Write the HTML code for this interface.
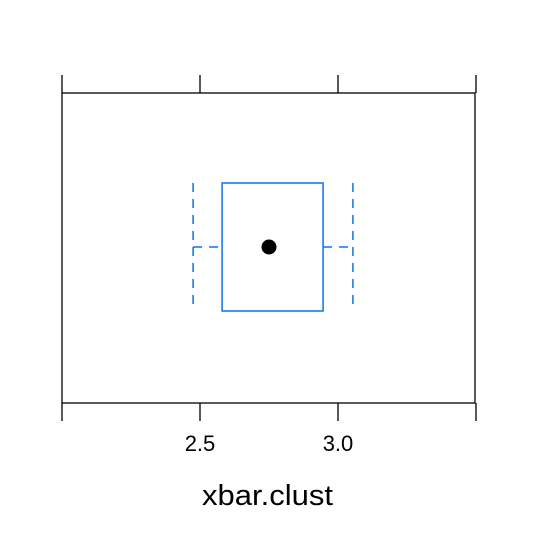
<!DOCTYPE html>
<html><head><meta charset="utf-8"><style>body{margin:0;background:#fff}svg{display:block}</style></head>
<body>
<svg id="chart" width="537" height="537" xmlns="http://www.w3.org/2000/svg" font-family="'Liberation Sans', sans-serif"></svg>
<script>
const tickValues = [2.0, 2.5, 3.0, 3.5];
const tickLabels = ["", "2.5", "3.0", ""];
const boxStats = [2.475, 2.58, 2.75, 2.946, 3.054]; // lower whisker, Q1, median, Q3, upper whisker
const xLabel = "xbar.clust";

const svg = document.getElementById('chart');
const NS = "http://www.w3.org/2000/svg";
const L = 62, R = 475, T = 93, B = 403;
const xMin = 2.0, xMax = 3.4964;
function x(v){ return L + (v - xMin) / (xMax - xMin) * (R - L); }
function mk(tag, attrs){ const e = document.createElementNS(NS, tag); for (const k in attrs) e.setAttribute(k, attrs[k]); svg.appendChild(e); return e; }

const frame = mk('rect', {x:L, y:T, width:R-L, height:B-T, fill:'none', stroke:'#000', 'stroke-width':1.3});



tickValues.forEach((v, i) => {
  const t1 = mk('line', {x1:x(v), x2:x(v), y1:T-18, y2:T, stroke:'#000', 'stroke-width':1.3});
  
  
  const t2 = mk('line', {x1:x(v), x2:x(v), y1:B, y2:B+18, stroke:'#000', 'stroke-width':1.3});
  
  
  if (tickLabels[i]) {
    const tl = mk('text', {x:x(v), y:451, 'text-anchor':'middle', 'font-size':22, fill:'#000'});
    tl.textContent = tickLabels[i];
    
    
  }
});

const title = mk('text', {x:202, y:505, 'font-size':29, fill:'#000', textLength:131, lengthAdjust:'spacingAndGlyphs'});
title.textContent = xLabel;



const yTop = 183, yBot = 311, yMid = 247, blue = '#0a72f0';
const dash = '9,7';
const wl = mk('line', {x1:x(boxStats[0]), x2:x(boxStats[0]), y1:yTop, y2:yBot, stroke:blue, 'stroke-width':1.5, 'stroke-dasharray':dash});


const wu = mk('line', {x1:x(boxStats[4]), x2:x(boxStats[4]), y1:yTop, y2:yBot, stroke:blue, 'stroke-width':1.5, 'stroke-dasharray':dash});


const hl = mk('line', {x1:x(boxStats[0]), x2:x(boxStats[1]), y1:yMid, y2:yMid, stroke:blue, 'stroke-width':1.5, 'stroke-dasharray':dash});


const hu = mk('line', {x1:x(boxStats[3]), x2:x(boxStats[4]), y1:yMid, y2:yMid, stroke:blue, 'stroke-width':1.5, 'stroke-dasharray':dash});


const box = mk('rect', {x:x(boxStats[1]), y:yTop, width:x(boxStats[3])-x(boxStats[1]), height:yBot-yTop, fill:'none', stroke:blue, 'stroke-width':1.5});


const med = mk('circle', {cx:x(boxStats[2]), cy:yMid, r:7.5, fill:'#000'});


</script>
</body></html>
